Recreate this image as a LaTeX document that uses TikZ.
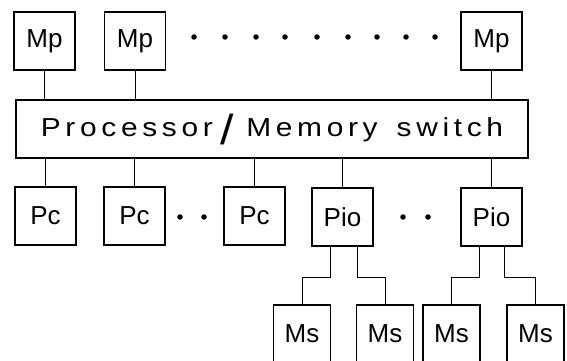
\documentclass[tikz,border=0pt]{standalone}
\usepackage{fontspec}
\setmainfont{Liberation Sans}
\newfontfamily\swfont[LetterSpace=18,FakeStretch=1.15]{Liberation Sans}
\begin{document}
\begin{tikzpicture}[x=1pt,y=-1pt,
  box/.style={draw, line width=1.8pt, inner sep=0pt, minimum width=61pt, minimum height=58pt,
    font=\fontsize{26}{30}\selectfont},
  swbox/.style={draw, line width=1.8pt, inner sep=0pt, minimum width=512pt, minimum height=58pt,
    font=\swfont\fontsize{26}{30}\selectfont},
  wire/.style={line width=0.9pt},
  dot/.style={circle, fill, inner sep=0pt, minimum size=5.5pt}]
\clip (0,0) rectangle (567,361);
\fill[white] (0,0) rectangle (567,361);
% memories
\node[box] (mp1) at (44.5,41) {Mp};
\node[box] (mp2) at (135,41) {Mp};
\node[box] (mp3) at (491.5,41) {Mp};
\foreach \x [count=\i] in {194,225,256,285,317,348,377,406,435}
  \node[dot] (d\i) at (\x,37) {};
% switch
\node[swbox] (sw) at (272,129) {Processor\hspace{8pt}\raisebox{-8pt}{\fontsize{42}{42}\selectfont /}\hspace{12pt}Memory\hspace{6pt} switch};
% processors
\node[box] (pc1) at (45.5,216) {Pc};
\node[box] (pc2) at (134.5,216) {Pc};
\node[box] (pc3) at (254.5,216) {Pc};
\node[box] (pio1) at (342.5,217) {Pio};
\node[box] (pio2) at (491.5,217) {Pio};
\node[dot] (e1) at (180,217) {};
\node[dot] (e2) at (204,217) {};
\node[dot] (e3) at (403,217) {};
\node[dot] (e4) at (428,217) {};
% secondary memories
\node[box, minimum width=57pt] (ms1) at (302,334) {Ms};
\node[box, minimum width=57pt] (ms2) at (385,334) {Ms};
\node[box, minimum width=57pt] (ms3) at (451.5,334) {Ms};
\node[box, minimum width=57pt] (ms4) at (535.5,334) {Ms};
% connectors
\foreach \n in {mp1,mp2,mp3}
  \draw[wire] (\n.south) -- (\n.south |- sw.north);
\foreach \n in {pc1,pc2,pc3,pio1,pio2}
  \draw[wire] (\n.north |- sw.south) -- (\n.north);
\coordinate (lvl) at (0,277);
\coordinate (p1a) at ([xshift=-12.5pt]pio1.south);
\coordinate (p1b) at ([xshift=14.5pt]pio1.south);
\coordinate (p2a) at ([xshift=-12.5pt]pio2.south);
\coordinate (p2b) at ([xshift=12.5pt]pio2.south);
\draw[wire] (p1a) -- (p1a |- lvl) -- (ms1.north |- lvl) -- (ms1.north);
\draw[wire] (p1b) -- (p1b |- lvl) -- (ms2.north |- lvl) -- (ms2.north);
\draw[wire] (p2a) -- (p2a |- lvl) -- (ms3.north |- lvl) -- (ms3.north);
\draw[wire] (p2b) -- (p2b |- lvl) -- (ms4.north |- lvl) -- (ms4.north);
\end{tikzpicture}
\end{document}
